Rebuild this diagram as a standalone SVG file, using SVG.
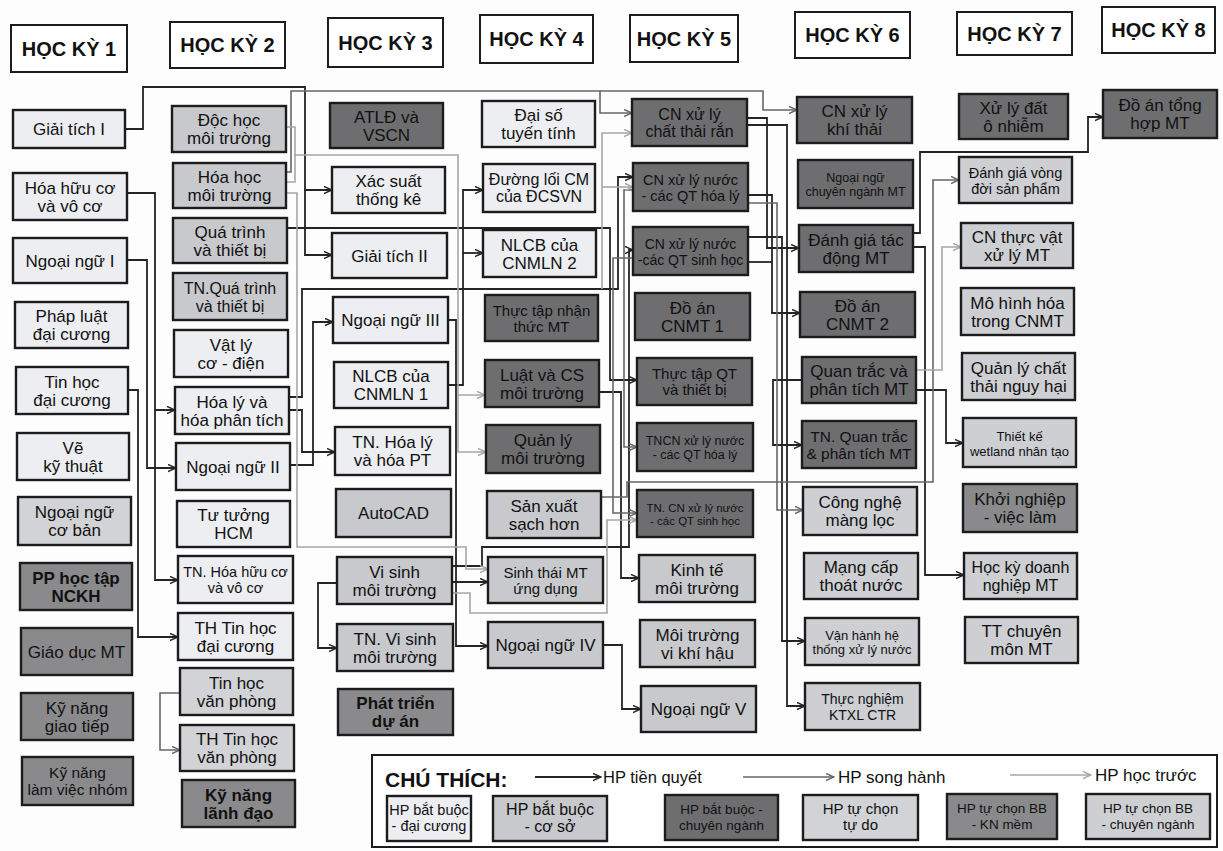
<svg xmlns="http://www.w3.org/2000/svg" width="1223" height="851" viewBox="0 0 1223 851">
<style>
text{font-family:"Liberation Sans",Arial,sans-serif;fill:#111;text-anchor:middle;font-size:17px}
.node rect{stroke:#1c1c1c;stroke-width:2.4}
.hdr rect{fill:#fff;stroke:#1c1c1c;stroke-width:2}
.hdr text{font-size:20px;font-weight:bold}
.c1 rect{fill:#eceef2}
.c2 rect{fill:#c8c9cc}
.c3 rect{fill:#6e6e70}
.c4 rect{fill:#d2d3d6}
.c5 rect{fill:#8a8a8c}
.c6 rect{fill:#cdcfd3}
.b text{font-weight:bold}
.k,.g,.l,.k0,.g0,.l0{fill:none;stroke-linejoin:miter}
.k,.k0{stroke:#242424;stroke-width:1.8}
.g,.g0{stroke:#666;stroke-width:1.6}
.l,.l0{stroke:#a6a6a6;stroke-width:1.6}
.k{marker-end:url(#ak)}
.g{marker-end:url(#ag)}
.l{marker-end:url(#al)}
</style>
<defs>
<marker id="ak" viewBox="0 0 10 10" refX="9" refY="5" markerWidth="9" markerHeight="9" markerUnits="userSpaceOnUse" orient="auto"><path d="M0,1 L9,5 L0,9" fill="none" stroke="#242424" stroke-width="1.6"/></marker>
<marker id="ag" viewBox="0 0 10 10" refX="9" refY="5" markerWidth="9" markerHeight="9" markerUnits="userSpaceOnUse" orient="auto"><path d="M0,1 L9,5 L0,9" fill="none" stroke="#666" stroke-width="1.6"/></marker>
<marker id="al" viewBox="0 0 10 10" refX="9" refY="5" markerWidth="9" markerHeight="9" markerUnits="userSpaceOnUse" orient="auto"><path d="M0,1 L9,5 L0,9" fill="none" stroke="#a6a6a6" stroke-width="1.6"/></marker>
</defs>
<rect x="0" y="0" width="1223" height="851" fill="#fdfdfd"/>

<g id="headers">
<g id="h1" class="hdr"><rect x="11" y="25" width="116" height="47"/><text x="69" y="56">HỌC KỲ 1</text></g>
<g id="h2" class="hdr"><rect x="170" y="22" width="115" height="46"/><text x="227.5" y="52">HỌC KỲ 2</text></g>
<g id="h3" class="hdr"><rect x="328" y="18" width="115" height="49"/><text x="385.5" y="50">HỌC KỲ 3</text></g>
<g id="h4" class="hdr"><rect x="480" y="15" width="113" height="48"/><text x="536.5" y="46">HỌC KỲ 4</text></g>
<g id="h5" class="hdr"><rect x="630" y="15" width="108" height="47"/><text x="684" y="46">HỌC KỲ 5</text></g>
<g id="h6" class="hdr"><rect x="795" y="12" width="115" height="46"/><text x="852.5" y="42">HỌC KỲ 6</text></g>
<g id="h7" class="hdr"><rect x="957" y="12" width="115" height="43"/><text x="1014.5" y="41">HỌC KỲ 7</text></g>
<g id="h8" class="hdr"><rect x="1102" y="7" width="113" height="46"/><text x="1158.5" y="37">HỌC KỲ 8</text></g>
</g>

<g id="connectors">
<path class="k" d="M125,129 H143 V87 H305 V190 H332"/>
<path class="k" d="M305,190 V255 H332"/>
<path class="k" d="M127,193 H155 V410 H175"/>
<path class="k" d="M155,410 V580 H178"/>
<path class="k" d="M127,260 H147 V468 H176"/>
<path class="k" d="M128,390 H138 V637 H178"/>
<path class="k" d="M287,228 H610 V380 H637"/>
<path class="k" d="M289,410 H302 V452 H335"/>
<path class="k" d="M289,397 H302 V289 H618 V177 H633"/>
<path class="k" d="M290,465 H313 V322 H333"/>
<path class="k" d="M448,385 H463 V190 H483"/>
<path class="k" d="M463,253 H483"/>
<path class="k" d="M448,320 H456 V646 H488"/>
<path class="k" d="M452,582 H488"/>
<path class="k" d="M337,583 H318 V648 H337"/>
<path class="k" d="M452,566 H482 V547 H629 V250 H633"/>
<path class="k" d="M599,392 H621 V578 H639"/>
<path class="k" d="M603,645 H622 V709 H641"/>
<path class="k" d="M747,118 H767 V248 H799"/>
<path class="k" d="M747,125 H787 V706 H805"/>
<path class="k" d="M748,195 H772 V313 H800"/>
<path class="k0" d="M748,262 H772"/>
<path class="k" d="M748,237 H782 V641 H805"/>
<path class="k" d="M802,380 H773 V445 H802"/>
<path class="k" d="M913,233 H920 V152 H1088 V117 H1103"/>
<path class="k" d="M913,247 H925 V575 H964"/>
<path class="k" d="M916,390 H946 V443 H963"/>
<path class="g" d="M286,172 H291 V91 H600 V113 H632"/>
<path class="g" d="M600,91 H763 V110 H797"/>
<path class="g" d="M633,190 H624 V447 H637"/>
<path class="g" d="M633,258 H613 V513 H637"/>
<path class="g" d="M601,497 H627 V482 H933 V180 H959"/>
<path class="g" d="M180,693 H160 V750 H180"/>
<path class="g" d="M748,203 H777 V510 H803"/>
<path class="l" d="M286,127 H295 V155 H458 V395 H485"/>
<path class="l0" d="M286,182 H295 V155"/>
<path class="l" d="M458,395 V452 H486"/>
<path class="l" d="M286,193 H297 V547 H466 V569 H488"/>
<path class="l" d="M452,593 H470 V613 H607 V520 H637"/>
<path class="l" d="M916,370 H942 V247 H961"/>
<path class="l" d="M602,289 V133 H632"/>
<path class="l" d="M602,187 H633"/>
</g>

<g id="n-giai-tich-1" class="node c1"><rect x="13" y="110" width="112" height="38"/><text x="69" y="135">Giải tích I</text></g>
<g id="n-hoa-huu-co" class="node c1"><rect x="13" y="173" width="114" height="47"/><text x="70" y="193.5"><tspan x="70">Hóa hữu cơ</tspan><tspan x="70" dy="18">và vô cơ</tspan></text></g>
<g id="n-ngoai-ngu-1" class="node c1"><rect x="13" y="238" width="114" height="45"/><text x="70" y="266.5">Ngoại ngữ I</text></g>
<g id="n-phap-luat" class="node c1"><rect x="15" y="302" width="113" height="46"/><text x="71.5" y="322"><tspan x="71.5">Pháp luật</tspan><tspan x="71.5" dy="18">đại cương</tspan></text></g>
<g id="n-tin-hoc-dc" class="node c1"><rect x="16" y="367" width="112" height="47"/><text x="72" y="387.5"><tspan x="72">Tin học</tspan><tspan x="72" dy="18">đại cương</tspan></text></g>
<g id="n-ve-ky-thuat" class="node c1"><rect x="17" y="433" width="112" height="47"/><text x="73" y="453.5"><tspan x="73">Vẽ</tspan><tspan x="73" dy="18">kỹ thuật</tspan></text></g>
<g id="n-ngoai-ngu-cb" class="node c4"><rect x="18" y="497" width="113" height="48"/><text x="74.5" y="518"><tspan x="74.5">Ngoại ngữ</tspan><tspan x="74.5" dy="18">cơ bản</tspan></text></g>
<g id="n-pp-hoc-tap" class="node c5 b"><rect x="20" y="563" width="112" height="47"/><text x="76" y="583.5"><tspan x="76">PP học tập</tspan><tspan x="76" dy="18">NCKH</tspan></text></g>
<g id="n-giao-duc-mt" class="node c5"><rect x="21" y="628" width="111" height="47"/><text x="76.5" y="657.5">Giáo dục MT</text></g>
<g id="n-kn-giao-tiep" class="node c5"><rect x="21" y="693" width="112" height="47"/><text x="77" y="713.5"><tspan x="77">Kỹ năng</tspan><tspan x="77" dy="18">giao tiếp</tspan></text></g>
<g id="n-kn-nhom" class="node c5"><rect x="22" y="757" width="111" height="48"/><text x="77.5" y="778" style="font-size:15.5px"><tspan x="77.5">Kỹ năng</tspan><tspan x="77.5" dy="17">làm việc nhóm</tspan></text></g>

<g id="n-doc-hoc" class="node c2"><rect x="172" y="106" width="114" height="46"/><text x="229" y="126"><tspan x="229">Độc học</tspan><tspan x="229" dy="18">môi trường</tspan></text></g>
<g id="n-hoa-hoc-mt" class="node c2"><rect x="173" y="163" width="113" height="45"/><text x="229.5" y="182.5"><tspan x="229.5">Hóa học</tspan><tspan x="229.5" dy="18">môi trường</tspan></text></g>
<g id="n-qua-trinh" class="node c2"><rect x="173" y="218" width="114" height="45"/><text x="230" y="237.5"><tspan x="230">Quá trình</tspan><tspan x="230" dy="18">và thiết bị</tspan></text></g>
<g id="n-tn-qua-trinh" class="node c2"><rect x="173" y="273" width="114" height="47"/><text x="230" y="293.5" style="font-size:16px"><tspan x="230">TN.Quá trình</tspan><tspan x="230" dy="18">và thiết bị</tspan></text></g>
<g id="n-vat-ly" class="node c1"><rect x="174" y="330" width="114" height="47"/><text x="231" y="350.5"><tspan x="231">Vật lý</tspan><tspan x="231" dy="18">cơ - điện</tspan></text></g>
<g id="n-hoa-ly" class="node c1"><rect x="175" y="387" width="114" height="47"/><text x="232" y="407.5"><tspan x="232">Hóa lý và</tspan><tspan x="232" dy="18">hóa phân tích</tspan></text></g>
<g id="n-ngoai-ngu-2" class="node c1"><rect x="176" y="443" width="114" height="47"/><text x="233" y="472.5">Ngoại ngữ II</text></g>
<g id="n-tu-tuong" class="node c1"><rect x="177" y="501" width="113" height="46"/><text x="233.5" y="521"><tspan x="233.5">Tư tưởng</tspan><tspan x="233.5" dy="18">HCM</tspan></text></g>
<g id="n-tn-hoa-huu-co" class="node c1"><rect x="178" y="556" width="115" height="47"/><text x="235.5" y="577" style="font-size:14.5px"><tspan x="235.5">TN. Hóa hữu cơ</tspan><tspan x="235.5" dy="16">và vô cơ</tspan></text></g>
<g id="n-th-tin-hoc-dc" class="node c1"><rect x="178" y="613" width="115" height="47"/><text x="235.5" y="633.5"><tspan x="235.5">TH Tin học</tspan><tspan x="235.5" dy="18">đại cương</tspan></text></g>
<g id="n-tin-hoc-vp" class="node c4"><rect x="180" y="668" width="113" height="47"/><text x="236.5" y="688.5"><tspan x="236.5">Tin học</tspan><tspan x="236.5" dy="18">văn phòng</tspan></text></g>
<g id="n-th-tin-hoc-vp" class="node c4"><rect x="180" y="725" width="114" height="46"/><text x="237" y="745"><tspan x="237">TH Tin học</tspan><tspan x="237" dy="18">văn phòng</tspan></text></g>
<g id="n-kn-lanh-dao" class="node c5 b"><rect x="182" y="780" width="113" height="47"/><text x="238.5" y="800.5"><tspan x="238.5">Kỹ năng</tspan><tspan x="238.5" dy="18">lãnh đạo</tspan></text></g>

<g id="n-atld" class="node c3"><rect x="330" y="103" width="113" height="45"/><text x="386.5" y="122.5"><tspan x="386.5">ATLĐ và</tspan><tspan x="386.5" dy="18">VSCN</tspan></text></g>
<g id="n-xac-suat" class="node c1"><rect x="332" y="167" width="113" height="46"/><text x="388.5" y="187"><tspan x="388.5">Xác suất</tspan><tspan x="388.5" dy="18">thống kê</tspan></text></g>
<g id="n-giai-tich-2" class="node c1"><rect x="332" y="233" width="115" height="45"/><text x="389.5" y="261.5">Giải tích II</text></g>
<g id="n-ngoai-ngu-3" class="node c1"><rect x="333" y="297" width="115" height="46"/><text x="390.5" y="326">Ngoại ngữ III</text></g>
<g id="n-nlcb-1" class="node c1"><rect x="334" y="362" width="114" height="46"/><text x="391" y="382"><tspan x="391">NLCB của</tspan><tspan x="391" dy="18">CNMLN 1</tspan></text></g>
<g id="n-tn-hoa-ly" class="node c1"><rect x="335" y="427" width="115" height="48"/><text x="392.5" y="448"><tspan x="392.5">TN. Hóa lý</tspan><tspan x="392.5" dy="18">và hóa PT</tspan></text></g>
<g id="n-autocad" class="node c2"><rect x="336" y="489" width="115" height="48"/><text x="393.5" y="519">AutoCAD</text></g>
<g id="n-vi-sinh" class="node c2"><rect x="337" y="557" width="115" height="47"/><text x="394.5" y="577.5"><tspan x="394.5">Vi sinh</tspan><tspan x="394.5" dy="18">môi trường</tspan></text></g>
<g id="n-tn-vi-sinh" class="node c2"><rect x="337" y="624" width="116" height="47"/><text x="395" y="644.5"><tspan x="395">TN. Vi sinh</tspan><tspan x="395" dy="18">môi trường</tspan></text></g>
<g id="n-phat-trien-du-an" class="node c5 b"><rect x="338" y="689" width="115" height="46"/><text x="395.5" y="709"><tspan x="395.5">Phát triển</tspan><tspan x="395.5" dy="18">dự án</tspan></text></g>

<g id="n-dai-so" class="node c1"><rect x="482" y="101" width="113" height="46"/><text x="538.5" y="121"><tspan x="538.5">Đại số</tspan><tspan x="538.5" dy="18">tuyến tính</tspan></text></g>
<g id="n-duong-loi" class="node c1"><rect x="483" y="164" width="112" height="48"/><text x="539" y="185" style="font-size:16px"><tspan x="539">Đường lối CM</tspan><tspan x="539" dy="17">của ĐCSVN</tspan></text></g>
<g id="n-nlcb-2" class="node c1"><rect x="483" y="230" width="113" height="47"/><text x="539.5" y="250.5"><tspan x="539.5">NLCB của</tspan><tspan x="539.5" dy="18">CNMLN 2</tspan></text></g>
<g id="n-thuc-tap-nhan-thuc" class="node c3"><rect x="485" y="295" width="113" height="46"/><text x="541.5" y="315.5" style="font-size:15px"><tspan x="541.5">Thực tập nhận</tspan><tspan x="541.5" dy="16">thức MT</tspan></text></g>
<g id="n-luat" class="node c3"><rect x="485" y="360" width="114" height="47"/><text x="542" y="380.5"><tspan x="542">Luật và CS</tspan><tspan x="542" dy="18">môi trường</tspan></text></g>
<g id="n-quan-ly-mt" class="node c3"><rect x="486" y="425" width="114" height="48"/><text x="543" y="446"><tspan x="543">Quản lý</tspan><tspan x="543" dy="18">môi trường</tspan></text></g>
<g id="n-san-xuat" class="node c2"><rect x="487" y="491" width="114" height="47"/><text x="544" y="511.5"><tspan x="544">Sản xuất</tspan><tspan x="544" dy="18">sạch hơn</tspan></text></g>
<g id="n-sinh-thai" class="node c2"><rect x="488" y="557" width="115" height="46"/><text x="545.5" y="577.5" style="font-size:15px"><tspan x="545.5">Sinh thái MT</tspan><tspan x="545.5" dy="16">ứng dụng</tspan></text></g>
<g id="n-ngoai-ngu-4" class="node c2"><rect x="488" y="622" width="115" height="46"/><text x="545.5" y="651">Ngoại ngữ IV</text></g>

<g id="n-cn-ctr" class="node c3"><rect x="632" y="99" width="115" height="47"/><text x="689.5" y="119.5" style="font-size:16px"><tspan x="689.5">CN xử lý</tspan><tspan x="689.5" dy="17">chất thải rắn</tspan></text></g>
<g id="n-cn-nuoc-hoa-ly" class="node c3"><rect x="633" y="163" width="115" height="48"/><text x="690.5" y="184.5" style="font-size:14.5px"><tspan x="690.5">CN xử lý nước</tspan><tspan x="690.5" dy="16">- các QT hóa lý</tspan></text></g>
<g id="n-cn-nuoc-sinh-hoc" class="node c3"><rect x="633" y="227" width="115" height="48"/><text x="690.5" y="248.5" style="font-size:14px"><tspan x="690.5">CN xử lý nước</tspan><tspan x="690.5" dy="16">-các QT sinh học</tspan></text></g>
<g id="n-do-an-1" class="node c3"><rect x="635" y="293" width="115" height="47"/><text x="692.5" y="313.5"><tspan x="692.5">Đồ án</tspan><tspan x="692.5" dy="18">CNMT 1</tspan></text></g>
<g id="n-thuc-tap-qt" class="node c3"><rect x="637" y="358" width="115" height="47"/><text x="694.5" y="379" style="font-size:15px"><tspan x="694.5">Thực tập QT</tspan><tspan x="694.5" dy="16">và thiết bị</tspan></text></g>
<g id="n-tncn-hoa-ly" class="node c3"><rect x="637" y="423" width="116" height="48"/><text x="695" y="445" style="font-size:12.5px"><tspan x="695">TNCN xử lý nước</tspan><tspan x="695" dy="14">- các QT hóa lý</tspan></text></g>
<g id="n-tn-cn-sinh-hoc" class="node c3"><rect x="637" y="490" width="116" height="47"/><text x="695" y="511.5" style="font-size:11.5px"><tspan x="695">TN. CN xử lý nước</tspan><tspan x="695" dy="13.5">- các QT sinh học</tspan></text></g>
<g id="n-kinh-te" class="node c2"><rect x="639" y="555" width="116" height="47"/><text x="697" y="575.5"><tspan x="697">Kinh tế</tspan><tspan x="697" dy="18">môi trường</tspan></text></g>
<g id="n-vi-khi-hau" class="node c2"><rect x="640" y="620" width="115" height="47"/><text x="697.5" y="640.5"><tspan x="697.5">Môi trường</tspan><tspan x="697.5" dy="18">vi khí hậu</tspan></text></g>
<g id="n-ngoai-ngu-5" class="node c2"><rect x="641" y="686" width="115" height="46"/><text x="698.5" y="715">Ngoại ngữ V</text></g>

<g id="n-khi-thai" class="node c3"><rect x="797" y="97" width="115" height="46"/><text x="854.5" y="117"><tspan x="854.5">CN xử lý</tspan><tspan x="854.5" dy="18">khí thải</tspan></text></g>
<g id="n-nn-chuyen-nganh" class="node c3"><rect x="798" y="160" width="115" height="48"/><text x="855.5" y="182" style="font-size:12.5px"><tspan x="855.5">Ngoại ngữ</tspan><tspan x="855.5" dy="14">chuyên ngành MT</tspan></text></g>
<g id="n-dgtd" class="node c3"><rect x="799" y="225" width="114" height="47"/><text x="856" y="245.5"><tspan x="856">Đánh giá tác</tspan><tspan x="856" dy="18">động MT</tspan></text></g>
<g id="n-do-an-2" class="node c3"><rect x="800" y="292" width="115" height="45"/><text x="857.5" y="311.5"><tspan x="857.5">Đồ án</tspan><tspan x="857.5" dy="18">CNMT 2</tspan></text></g>
<g id="n-quan-trac" class="node c3"><rect x="802" y="357" width="114" height="46"/><text x="859" y="377"><tspan x="859">Quan trắc và</tspan><tspan x="859" dy="18">phân tích MT</tspan></text></g>
<g id="n-tn-quan-trac" class="node c3"><rect x="802" y="421" width="114" height="47"/><text x="859" y="442" style="font-size:15.5px"><tspan x="859">TN. Quan trắc</tspan><tspan x="859" dy="17">&amp; phân tích MT</tspan></text></g>
<g id="n-mang-loc" class="node c6"><rect x="803" y="487" width="114" height="48"/><text x="860" y="508"><tspan x="860">Công nghệ</tspan><tspan x="860" dy="18">màng lọc</tspan></text></g>
<g id="n-mang-cap" class="node c6"><rect x="804" y="553" width="114" height="46"/><text x="861" y="573"><tspan x="861">Mạng cấp</tspan><tspan x="861" dy="18">thoát nước</tspan></text></g>
<g id="n-van-hanh" class="node c6"><rect x="805" y="618" width="114" height="47"/><text x="862" y="639.5" style="font-size:13px"><tspan x="862">Vận hành hệ</tspan><tspan x="862" dy="14.5">thống xử lý nước</tspan></text></g>
<g id="n-thuc-nghiem" class="node c6"><rect x="805" y="683" width="115" height="47"/><text x="862.5" y="704" style="font-size:14px"><tspan x="862.5">Thực nghiệm</tspan><tspan x="862.5" dy="16">KTXL CTR</tspan></text></g>

<g id="n-xu-ly-dat" class="node c3"><rect x="959" y="94" width="109" height="45"/><text x="1013.5" y="113.5"><tspan x="1013.5">Xử lý đất</tspan><tspan x="1013.5" dy="18">ô nhiễm</tspan></text></g>
<g id="n-vong-doi" class="node c6"><rect x="959" y="157" width="113" height="46"/><text x="1015.5" y="177.5" style="font-size:14.5px"><tspan x="1015.5">Đánh giá vòng</tspan><tspan x="1015.5" dy="16">đời sản phẩm</tspan></text></g>
<g id="n-cn-thuc-vat" class="node c6"><rect x="961" y="223" width="112" height="45"/><text x="1017" y="242.5"><tspan x="1017">CN thực vật</tspan><tspan x="1017" dy="18">xử lý MT</tspan></text></g>
<g id="n-mo-hinh-hoa" class="node c6"><rect x="961" y="288" width="113" height="47"/><text x="1017.5" y="308.5"><tspan x="1017.5">Mô hình hóa</tspan><tspan x="1017.5" dy="18">trong CNMT</tspan></text></g>
<g id="n-ctnh" class="node c6"><rect x="962" y="353" width="113" height="47"/><text x="1018.5" y="373.5"><tspan x="1018.5">Quản lý chất</tspan><tspan x="1018.5" dy="18">thải nguy hại</tspan></text></g>
<g id="n-wetland" class="node c6"><rect x="963" y="418" width="113" height="49"/><text x="1019.5" y="440.5" style="font-size:13px"><tspan x="1019.5">Thiết kế</tspan><tspan x="1019.5" dy="15">wetland nhân tạo</tspan></text></g>
<g id="n-khoi-nghiep" class="node c5"><rect x="963" y="484" width="114" height="48"/><text x="1020" y="505"><tspan x="1020">Khởi nghiệp</tspan><tspan x="1020" dy="18">- việc làm</tspan></text></g>
<g id="n-hk-doanh-nghiep" class="node c6"><rect x="964" y="553" width="113" height="46"/><text x="1020.5" y="573" style="font-size:16px"><tspan x="1020.5">Học kỳ doanh</tspan><tspan x="1020.5" dy="17.5">nghiệp MT</tspan></text></g>
<g id="n-tt-chuyen-mon" class="node c6"><rect x="965" y="617" width="113" height="46"/><text x="1021.5" y="637"><tspan x="1021.5">TT chuyên</tspan><tspan x="1021.5" dy="18">môn MT</tspan></text></g>

<g id="n-do-an-tong-hop" class="node c3"><rect x="1103" y="90" width="114" height="48"/><text x="1160" y="111"><tspan x="1160">Đồ án tổng</tspan><tspan x="1160" dy="18">hợp MT</tspan></text></g>

<g id="legend">
<rect x="372" y="755" width="845" height="92" fill="#fff" stroke="#1c1c1c" stroke-width="2"/>
<text x="385" y="787" style="font-size:21px;font-weight:bold;text-anchor:start">CHÚ THÍCH:</text>
<path class="k" d="M535,777 H601"/>
<text x="603" y="783" style="font-size:16.5px;text-anchor:start">HP tiền quyết</text>
<path class="g" d="M743,777 H834"/>
<text x="838" y="783" style="font-size:17px;text-anchor:start">HP song hành</text>
<path class="l" d="M1010,775 H1091"/>
<text x="1095" y="781" style="font-size:17px;text-anchor:start">HP học trước</text>
<g id="lg1" class="node c1"><rect x="387" y="796" width="84" height="45"/><text x="429" y="815" style="font-size:14.5px"><tspan x="429">HP bắt buộc</tspan><tspan x="429" dy="16">- đại cương</tspan></text></g>
<g id="lg2" class="node c2"><rect x="493" y="796" width="114" height="45"/><text x="550" y="815" style="font-size:16px"><tspan x="550">HP bắt buộc</tspan><tspan x="550" dy="17">- cơ sở</tspan></text></g>
<g id="lg3" class="node c3"><rect x="665" y="795" width="113" height="45"/><text x="721.5" y="814" style="font-size:13.5px"><tspan x="721.5">HP bắt buộc -</tspan><tspan x="721.5" dy="15.5">chuyên ngành</tspan></text></g>
<g id="lg4" class="node c4"><rect x="803" y="795" width="115" height="45"/><text x="860.5" y="814" style="font-size:15px"><tspan x="860.5">HP tự chọn</tspan><tspan x="860.5" dy="16">tự do</tspan></text></g>
<g id="lg5" class="node c5"><rect x="947" y="794" width="110" height="45"/><text x="1002" y="813" style="font-size:13.5px"><tspan x="1002">HP tự chọn BB</tspan><tspan x="1002" dy="15.5">- KN mềm</tspan></text></g>
<g id="lg6" class="node c6"><rect x="1086" y="794" width="124" height="45"/><text x="1148" y="813" style="font-size:13.5px"><tspan x="1148">HP tự chọn BB</tspan><tspan x="1148" dy="15.5">- chuyên ngành</tspan></text></g>
</g>
</svg>
